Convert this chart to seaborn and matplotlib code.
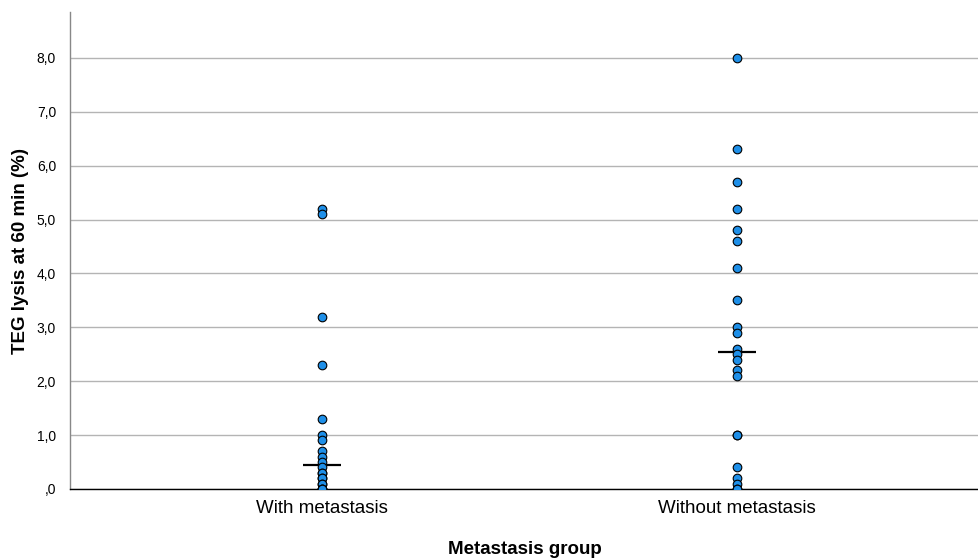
import pandas as pd
import matplotlib.pyplot as plt
import seaborn as sns

# Values (TEG lysis at 60 min, %)
groups = ["With metastasis", "Without metastasis"]
withMetastasis = [5.2, 5.1, 3.2, 2.3, 1.3, 1.0, 0.9, 0.7, 0.6, 0.5,
                  0.4, 0.3, 0.3, 0.2, 0.2, 0.1, 0.1, 0.0, 0.0, 0.0]
withoutMetastasis = [8.0, 6.3, 5.7, 5.2, 4.8, 4.6, 4.1, 3.5, 3.0, 2.9, 2.6,
                     2.5, 2.4, 2.2, 2.1, 1.0, 1.0, 0.4, 0.2, 0.1, 0.0, 0.0]
yTicks = [0, 1, 2, 3, 4, 5, 6, 7, 8]
yTickLabels = [",0", "1,0", "2,0", "3,0", "4,0", "5,0", "6,0", "7,0", "8,0"]

df = pd.DataFrame({
    "group": [groups[0]] * len(withMetastasis) + [groups[1]] * len(withoutMetastasis),
    "lysis": withMetastasis + withoutMetastasis,
})

sns.set_theme(style="white")
plt.rcParams["font.family"] = ["Liberation Sans", "DejaVu Sans"]
plt.rcParams["text.color"] = "black"
plt.rcParams["axes.labelcolor"] = "black"
plt.rcParams["xtick.color"] = "black"
plt.rcParams["ytick.color"] = "black"

fig = plt.figure(figsize=(9.79, 5.58), dpi=100)
ax = fig.add_axes([70 / 979, 69 / 558, 909 / 979, 477 / 558])

# Individual points, no jitter
sns.stripplot(data=df, x="group", y="lysis", order=groups, jitter=False,
              color="#1e8fe8", size=6.2, edgecolor="black", linewidth=0.8, ax=ax)

# Median line per group
sns.pointplot(data=df, x="group", y="lysis", order=groups, estimator="median",
              errorbar=None, color="black", marker="_", markersize=27,
              markeredgewidth=1.6, linestyle="none", ax=ax)

ax.set_xlim(-0.607, 1.583)
ax.set_ylim(0, 8.85)
ax.set_yticks(yTicks)
ax.set_yticklabels(yTickLabels)
ax.yaxis.grid(True, color="#b4b4b4", linewidth=1.0)
ax.set_axisbelow(True)

ax.tick_params(axis="y", length=0, pad=10, labelsize=10, colors="black")
ax.tick_params(axis="x", length=0, pad=8, labelsize=13.5, colors="black")

for side in ["top", "right"]:
    ax.spines[side].set_visible(False)
ax.spines["left"].set_color("#888888")
ax.spines["left"].set_linewidth(1.0)
ax.spines["bottom"].set_color("black")
ax.spines["bottom"].set_linewidth(1.0)

ax.set_xlabel("Metastasis group", fontsize=13.5, fontweight="bold", labelpad=17, color="black")
ax.set_ylabel("TEG lysis at 60 min (%)", fontsize=13.5, fontweight="bold", labelpad=5.5, color="black")

fig.savefig("out.png", dpi=100)
